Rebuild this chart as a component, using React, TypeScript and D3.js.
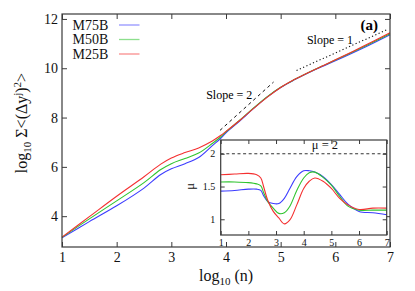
import React from "react";
import * as d3 from "d3";

const W = 415;
const H = 291;
const SERIF = "Liberation Serif, DejaVu Serif, Times New Roman, Times, serif";

// main panel: log10 n against log10 sum of squared displacements
const logN = [1, 1.5, 2, 2.5, 2.8, 3, 3.25, 3.5, 3.75, 3.9, 4, 4.25, 4.5, 4.75, 5, 5.25, 5.5, 5.75, 6, 6.5, 7];
const m75 = [3.12, 3.78, 4.42, 5.14, 5.68, 5.92, 6.13, 6.38, 6.86, 7.15, 7.38, 7.86, 8.36, 8.83, 9.22, 9.53, 9.81, 10.06, 10.3, 10.81, 11.36];
const m50 = [3.14, 3.89, 4.62, 5.36, 5.88, 6.13, 6.34, 6.56, 6.95, 7.21, 7.42, 7.89, 8.38, 8.84, 9.23, 9.54, 9.82, 10.08, 10.33, 10.85, 11.4];
const m25 = [3.15, 3.98, 4.81, 5.6, 6.1, 6.36, 6.58, 6.77, 7.05, 7.27, 7.44, 7.88, 8.36, 8.82, 9.22, 9.54, 9.82, 10.08, 10.34, 10.88, 11.44];

// inset: local exponent mu
const muN = [1, 1.5, 2, 2.3, 2.45, 2.55, 2.7, 2.9, 3.1, 3.3, 3.5, 3.75, 4, 4.2, 4.4, 4.7, 5, 5.3, 5.6, 6, 6.5, 7];
const mu75 = [1.43, 1.44, 1.46, 1.46, 1.44, 1.36, 1.27, 1.24, 1.24, 1.32, 1.47, 1.65, 1.74, 1.74, 1.72, 1.65, 1.53, 1.38, 1.23, 1.12, 1.1, 1.07];
const mu50 = [1.57, 1.57, 1.56, 1.54, 1.51, 1.41, 1.27, 1.17, 1.09, 1.1, 1.2, 1.44, 1.63, 1.71, 1.72, 1.64, 1.52, 1.35, 1.2, 1.14, 1.14, 1.14];
const mu25 = [1.68, 1.69, 1.7, 1.68, 1.63, 1.5, 1.29, 1.12, 1.02, 0.93, 0.99, 1.22, 1.47, 1.58, 1.63, 1.58, 1.47, 1.32, 1.22, 1.15, 1.17, 1.17];

const seriesNames = ["M75B", "M50B", "M25B"];
const seriesColors = ["#3c3cff", "#2fc42f", "#f43030"];

const mainXTicks = [1, 2, 3, 4, 5, 6, 7];
const mainYTicks = [4, 6, 8, 10, 12];
const insetXTicks = [1, 2, 3, 4, 5, 6, 7];
const insetYTicks = [1, 1.5, 2];

// guide lines [x, y] in data units
const slope2Line: [number, number][] = [[3.89, 7.48], [4.87, 9.44]];
const slope1Line: [number, number][] = [[5.29, 9.91], [6.97, 11.59]];
const muRef = 2;

const App = () => {
  const svgRef = React.useRef<SVGSVGElement>(null);

  React.useEffect(() => {
    const svg = d3.select(svgRef.current);
    svg.selectAll("*").remove();

    const x = d3.scaleLinear().domain([1, 7]).range([62, 390]);
    const y = d3.scaleLinear().domain([2.75, 12.2]).range([247, 14]);
    const ix = d3.scaleLinear().domain([1, 7]).range([220.7, 386.7]);
    const iy = d3.scaleLinear().domain([0.76, 2.21]).range([235, 140]);

    const frame = "#3a3a3a";

    // ---- main panel
    const g = svg.append("g");
    const ax = (sel: any) => {
      sel.select(".domain").remove();
      sel.selectAll(".tick line").attr("stroke", frame);
      sel.selectAll("text").attr("font-family", SERIF).attr("font-size", 14).attr("fill", "#111");
    };
    g.append("g").attr("transform", `translate(0,${y.range()[0]})`)
      .call(d3.axisBottom(x).tickValues(mainXTicks).tickSize(-5).tickPadding(5.5).tickFormat(d3.format("d")))
      .call(ax);
    g.append("g").attr("transform", `translate(0,${y.range()[1]})`)
      .call(d3.axisTop(x).tickValues(mainXTicks).tickSize(-5).tickFormat(() => ""))
      .call(ax);
    g.append("g").attr("transform", `translate(${x.range()[0]},0)`)
      .call(d3.axisLeft(y).tickValues(mainYTicks).tickSize(-5).tickPadding(4).tickFormat(d3.format("d")))
      .call(ax);
    g.append("g").attr("transform", `translate(${x.range()[1]},0)`)
      .call(d3.axisRight(y).tickValues(mainYTicks).tickSize(-5).tickFormat(() => ""))
      .call(ax);

    const line = d3.line<[number, number]>()
      .x((d) => x(d[0])).y((d) => y(d[1]))
      .curve(d3.curveCatmullRom.alpha(0.5));
    [m75, m50, m25].forEach((vals, i) => {
      g.append("path")
        .attr("d", line(logN.map((n, j) => [n, vals[j]] as [number, number])))
        .attr("fill", "none").attr("stroke", seriesColors[i]).attr("stroke-width", 1.1);
    });

    const straight = d3.line<[number, number]>().x((d) => x(d[0])).y((d) => y(d[1]));
    g.append("path").attr("d", straight(slope2Line))
      .attr("stroke", "#111").attr("stroke-width", 1).attr("stroke-dasharray", "3.2,3.2").attr("fill", "none");
    g.append("path").attr("d", straight(slope1Line))
      .attr("stroke", "#111").attr("stroke-width", 1.1).attr("stroke-dasharray", "1.2,2.4").attr("fill", "none");

    g.append("text").attr("x", x(4.48)).attr("y", y(8.74)).attr("text-anchor", "end")
      .attr("font-family", SERIF).attr("font-size", 12).text("Slope = 2");
    g.append("text").attr("x", x(5.48)).attr("y", y(11.0))
      .attr("font-family", SERIF).attr("font-size", 12).text("Slope = 1");
    g.append("text").attr("x", 378).attr("y", 30).attr("text-anchor", "end")
      .attr("font-family", SERIF).attr("font-size", 15).attr("font-weight", "bold").text("(a)");

    // legend
    seriesNames.forEach((name, i) => {
      const cy = 25 + i * 14.5;
      g.append("text").attr("x", 72.5).attr("y", cy).attr("dy", "0.35em")
        .attr("font-family", SERIF).attr("font-size", 14).attr("fill", "#111").text(name);
      g.append("line").attr("x1", 119).attr("x2", 139.5).attr("y1", cy).attr("y2", cy)
        .attr("stroke", seriesColors[i]).attr("stroke-width", 1.3).attr("stroke-opacity", 0.55);
    });

    g.append("rect").attr("x", x.range()[0]).attr("y", y.range()[1])
      .attr("width", x.range()[1] - x.range()[0]).attr("height", y.range()[0] - y.range()[1])
      .attr("fill", "none").attr("stroke", frame).attr("stroke-width", 1.2);

    // axis titles
    const xt = g.append("text").attr("x", (x.range()[0] + x.range()[1]) / 2).attr("y", 280.5)
      .attr("text-anchor", "middle").attr("font-family", SERIF).attr("font-size", 16).attr("fill", "#111");
    xt.append("tspan").text("log");
    xt.append("tspan").attr("font-size", 11).attr("dy", 4).text("10");
    xt.append("tspan").attr("dy", -4).text(" (n)");

    const yt = g.append("text").attr("transform", "translate(27,123) rotate(-90)")
      .attr("text-anchor", "middle").attr("font-family", SERIF).attr("font-size", 16).attr("fill", "#111");
    yt.append("tspan").text("log");
    yt.append("tspan").attr("font-size", 11).attr("dy", 4).text("10");
    yt.append("tspan").attr("dy", -4).text(" \u03a3<(\u0394y");
    yt.append("tspan").attr("font-size", 11).attr("dy", -6).text("j");
    yt.append("tspan").attr("dy", 6).text(")");
    yt.append("tspan").attr("font-size", 11).attr("dy", -6).text("2");
    yt.append("tspan").attr("dy", 6).text(">");

    // ---- inset
    const ins = svg.append("g");
    ins.append("rect").attr("x", ix.range()[0]).attr("y", iy.range()[1])
      .attr("width", ix.range()[1] - ix.range()[0]).attr("height", iy.range()[0] - iy.range()[1])
      .attr("fill", "#fff");
    const iax = (sel: any) => {
      sel.select(".domain").remove();
      sel.selectAll(".tick line").attr("stroke", frame);
      sel.selectAll("text").attr("font-family", SERIF).attr("font-size", 10).attr("fill", "#111");
    };
    ins.append("g").attr("transform", `translate(0,${iy.range()[0]})`)
      .call(d3.axisBottom(ix).tickValues(insetXTicks).tickSize(-4).tickPadding(3.5).tickFormat(d3.format("d")))
      .call(iax);
    ins.append("g").attr("transform", `translate(0,${iy.range()[1]})`)
      .call(d3.axisTop(ix).tickValues(insetXTicks).tickSize(-4).tickFormat(() => ""))
      .call(iax);
    ins.append("g").attr("transform", `translate(${ix.range()[0]},0)`)
      .call(d3.axisLeft(iy).tickValues(insetYTicks).tickSize(-4).tickPadding(5.5).tickFormat(d3.format("")))
      .call(iax);
    ins.append("g").attr("transform", `translate(${ix.range()[1]},0)`)
      .call(d3.axisRight(iy).tickValues(insetYTicks).tickSize(-4).tickFormat(() => ""))
      .call(iax);

    ins.append("line").attr("x1", ix.range()[0]).attr("x2", ix.range()[1])
      .attr("y1", iy(muRef)).attr("y2", iy(muRef))
      .attr("stroke", "#333").attr("stroke-dasharray", "3,2.6").attr("stroke-width", 1);

    const iline = d3.line<[number, number]>()
      .x((d) => ix(d[0])).y((d) => iy(d[1]))
      .curve(d3.curveCatmullRom.alpha(0.5));
    [mu75, mu50, mu25].forEach((vals, i) => {
      ins.append("path")
        .attr("d", iline(muN.map((n, j) => [n, vals[j]] as [number, number])))
        .attr("fill", "none").attr("stroke", seriesColors[i]).attr("stroke-width", 1.1);
    });

    ins.append("rect").attr("x", ix.range()[0]).attr("y", iy.range()[1])
      .attr("width", ix.range()[1] - ix.range()[0]).attr("height", iy.range()[0] - iy.range()[1])
      .attr("fill", "none").attr("stroke", frame).attr("stroke-width", 1.2);

    ins.append("text").attr("x", ix(4.77)).attr("y", 149).attr("text-anchor", "middle")
      .attr("font-family", SERIF).attr("font-size", 12.5).attr("fill", "#111").text("\u03bc = 2");
    ins.append("text").attr("transform", `translate(194,${iy(1.5)}) rotate(-90)`)
      .attr("text-anchor", "middle").attr("font-family", SERIF).attr("font-size", 12.5).attr("fill", "#111")
      .text("\u03bc");
  }, []);

  return (
    <svg
      ref={svgRef}
      width={W}
      height={H}
      style={{ position: "absolute", left: 0, top: 0, background: "#fff" }}
    />
  );
};

export default App;
